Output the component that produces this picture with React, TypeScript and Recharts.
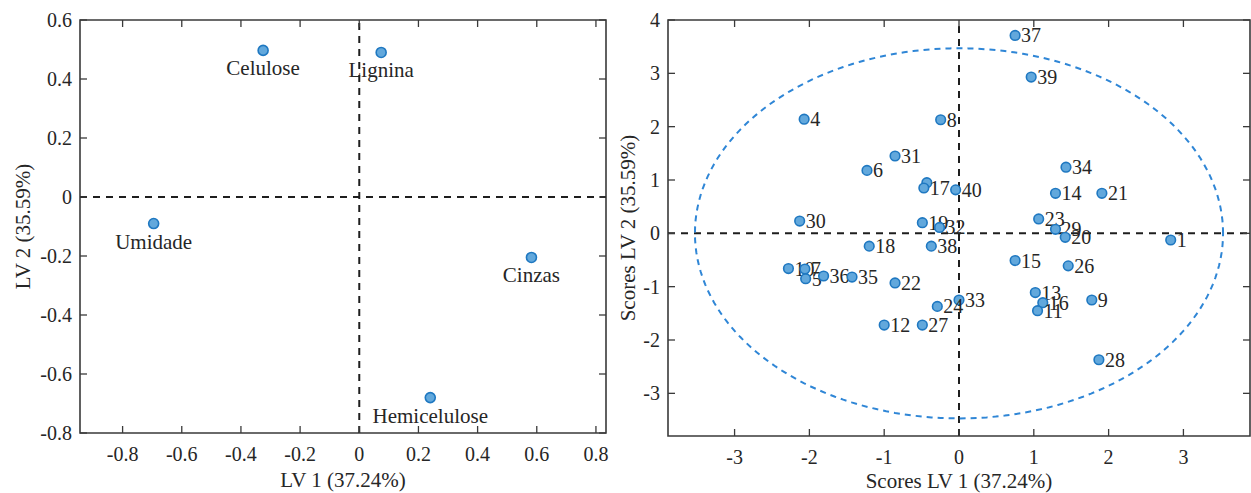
import React from "react";
import {
  ScatterChart,
  Scatter,
  XAxis,
  YAxis,
  ReferenceLine,
  ReferenceArea,
} from "recharts";

// loadings (left panel)
const loadingNames = ["Celulose", "Lignina", "Umidade", "Cinzas", "Hemicelulose"];
const loadingLV1 = [-0.325, 0.074, -0.695, 0.582, 0.24];
const loadingLV2 = [0.497, 0.49, -0.09, -0.205, -0.68];
const loadingTicksX = [-0.8, -0.6, -0.4, -0.2, 0, 0.2, 0.4, 0.6, 0.8];
const loadingTicksY = [-0.8, -0.6, -0.4, -0.2, 0, 0.2, 0.4, 0.6];

// scores (right panel)
const sampleIds = [
  "37", "39", "4", "8", "31", "6", "", "17", "40", "34",
  "14", "21", "30", "19", "32", "23", "29", "20", "1", "18",
  "38", "15", "26", "10", "7", "5", "36", "35", "22", "13",
  "16", "9", "33", "24", "11", "12", "27", "28",
];
const scoreLV1 = [
  0.75, 0.965, -2.07, -0.245, -0.855, -1.23, -0.43, -0.47, -0.045, 1.43,
  1.29, 1.91, -2.13, -0.49, -0.26, 1.065, 1.29, 1.42, 2.83, -1.2,
  -0.37, 0.75, 1.46, -2.28, -2.06, -2.05, -1.81, -1.43, -0.855, 1.02,
  1.12, 1.775, 0.0, -0.29, 1.05, -1.0, -0.49, 1.87,
];
const scoreLV2 = [
  3.71, 2.93, 2.14, 2.13, 1.45, 1.18, 0.95, 0.85, 0.815, 1.24,
  0.75, 0.75, 0.23, 0.2, 0.11, 0.27, 0.075, -0.075, -0.125, -0.24,
  -0.24, -0.51, -0.61, -0.66, -0.67, -0.85, -0.8, -0.82, -0.93, -1.11,
  -1.3, -1.25, -1.25, -1.37, -1.45, -1.72, -1.72, -2.37,
];
const scoreTicksX = [-3, -2, -1, 0, 1, 2, 3];
const scoreTicksY = [-3, -2, -1, 0, 1, 2, 3, 4];

// confidence ellipse semi-axes
const ellipseRadiusLV1 = 3.53;
const ellipseRadiusLV2 = 3.47;

const loadingData = loadingNames.map((name, i) => ({
  name,
  x: loadingLV1[i],
  y: loadingLV2[i],
}));
const scoreData = sampleIds.map((id, i) => ({
  id,
  x: scoreLV1[i],
  y: scoreLV2[i],
}));
const ellipseData = Array.from({ length: 181 }, (_, i) => {
  const t = (i / 180) * 2 * Math.PI;
  return { x: ellipseRadiusLV1 * Math.cos(t), y: ellipseRadiusLV2 * Math.sin(t) };
});

const FONT = "'Liberation Serif', 'Times New Roman', serif";
const INK = "#262626";
const FRAME = "#3a3a3a";
const DOT_FILL = "#62a8dc";
const DOT_STROKE = "#1f78c1";

const fmtLoad = (v: number) => (v === 0 ? "0" : v.toFixed(1));
const fmtInt = (v: number) => String(v);

function xTick(top: number, bottom: number, fmt: (v: number) => string) {
  return (p: any) => (
    <g key={"xt" + p.index}>
      <line x1={p.x} x2={p.x} y1={bottom} y2={bottom - 7} stroke={FRAME} strokeWidth={1.3} />
      <line x1={p.x} x2={p.x} y1={top} y2={top + 7} stroke={FRAME} strokeWidth={1.3} />
      <text x={p.x} y={bottom + 28} textAnchor="middle" fontFamily={FONT} fontSize={20} fill={INK}>
        {fmt(p.payload.value)}
      </text>
    </g>
  );
}

function yTick(left: number, right: number, fmt: (v: number) => string) {
  return (p: any) => (
    <g key={"yt" + p.index}>
      <line x1={left} x2={left + 7} y1={p.y} y2={p.y} stroke={FRAME} strokeWidth={1.3} />
      <line x1={right} x2={right - 7} y1={p.y} y2={p.y} stroke={FRAME} strokeWidth={1.3} />
      <text x={left - 8} y={p.y + 7} textAnchor="end" fontFamily={FONT} fontSize={20} fill={INK}>
        {fmt(p.payload.value)}
      </text>
    </g>
  );
}

function LoadingDot(p: any) {
  return (
    <g>
      <circle cx={p.cx} cy={p.cy} r={5} fill={DOT_FILL} stroke={DOT_STROKE} strokeWidth={1.6} />
      <text x={p.cx} y={p.cy + 25} textAnchor="middle" fontFamily={FONT} fontSize={21} fill={INK}>
        {p.payload.name}
      </text>
    </g>
  );
}

function ScoreDot(p: any) {
  return (
    <g>
      <circle cx={p.cx} cy={p.cy} r={4.8} fill={DOT_FILL} stroke={DOT_STROKE} strokeWidth={1.6} />
      <text x={p.cx + 6} y={p.cy + 7} fontFamily={FONT} fontSize={20} fill={INK}>
        {p.payload.id}
      </text>
    </g>
  );
}

function LoadingsPlot() {
  const L = 80, R = 606, T = 20, B = 433;
  return (
    <ScatterChart width={620} height={493} margin={{ top: T, right: 620 - R, bottom: 30, left: 20 }}>
      <XAxis
        type="number"
        dataKey="x"
        domain={[-0.944, 0.834]}
        ticks={loadingTicksX}
        allowDataOverflow
        axisLine={false}
        tickLine={false}
        height={30}
        tick={xTick(T, B, fmtLoad)}
        label={{
          value: "LV 1 (37.24%)",
          content: () => (
            <text x={(L + R) / 2} y={487} textAnchor="middle" fontFamily={FONT} fontSize={21} fill={INK}>
              LV 1 (37.24%)
            </text>
          ),
        }}
      />
      <YAxis
        type="number"
        dataKey="y"
        domain={[-0.8, 0.6]}
        ticks={loadingTicksY}
        allowDataOverflow
        axisLine={false}
        tickLine={false}
        width={60}
        tick={yTick(L, R, fmtLoad)}
        label={{
          value: "LV 2 (35.59%)",
          content: () => (
            <text
              transform={`translate(30, ${(T + B) / 2}) rotate(-90)`}
              textAnchor="middle"
              fontFamily={FONT}
              fontSize={21}
              fill={INK}
            >
              LV 2 (35.59%)
            </text>
          ),
        }}
      />
      <ReferenceArea x1={-0.944} x2={0.834} y1={-0.8} y2={0.6} fill="none" stroke={FRAME} strokeWidth={1.6} />
      <ReferenceLine x={0} stroke="#1e1e1e" strokeWidth={2} strokeDasharray="7 6" />
      <ReferenceLine y={0} stroke="#1e1e1e" strokeWidth={2} strokeDasharray="7 6" />
      <Scatter data={loadingData} shape={LoadingDot} isAnimationActive={false} />
    </ScatterChart>
  );
}

function ScoresPlot() {
  // chart sits at x = 607 on the page
  const L = 61, R = 643, T = 20, B = 436;
  return (
    <ScatterChart width={644} height={493} margin={{ top: T, right: 644 - R, bottom: 27, left: 21 }}>
      <XAxis
        type="number"
        dataKey="x"
        domain={[-3.89, 3.89]}
        ticks={scoreTicksX}
        allowDataOverflow
        axisLine={false}
        tickLine={false}
        height={30}
        tick={xTick(T, B, fmtInt)}
        label={{
          value: "Scores LV 1 (37.24%)",
          content: () => (
            <text x={(L + R) / 2} y={488} textAnchor="middle" fontFamily={FONT} fontSize={21} fill={INK}>
              Scores LV 1 (37.24%)
            </text>
          ),
        }}
      />
      <YAxis
        type="number"
        dataKey="y"
        domain={[-3.8, 4]}
        ticks={scoreTicksY}
        allowDataOverflow
        axisLine={false}
        tickLine={false}
        width={40}
        tick={yTick(L, R, fmtInt)}
        label={{
          value: "Scores LV 2 (35.59%)",
          content: () => (
            <text
              transform={`translate(28, ${(T + B) / 2}) rotate(-90)`}
              textAnchor="middle"
              fontFamily={FONT}
              fontSize={21}
              fill={INK}
            >
              Scores LV 2 (35.59%)
            </text>
          ),
        }}
      />
      <ReferenceArea x1={-3.89} x2={3.89} y1={-3.8} y2={4} fill="none" stroke={FRAME} strokeWidth={1.6} />
      <ReferenceLine x={0} stroke="#1e1e1e" strokeWidth={2} strokeDasharray="7 6" />
      <ReferenceLine y={0} stroke="#1e1e1e" strokeWidth={2} strokeDasharray="7 6" />
      <Scatter
        data={ellipseData}
        line={{ stroke: "#2f86d6", strokeWidth: 2, strokeDasharray: "6 5" }}
        lineType="joint"
        shape={() => <g />}
        isAnimationActive={false}
      />
      <Scatter data={scoreData} shape={ScoreDot} isAnimationActive={false} />
    </ScatterChart>
  );
}

export default function App() {
  return (
    <div style={{ position: "absolute", left: 0, top: 0, width: 1251, height: 493, background: "#fff" }}>
      <div style={{ position: "absolute", left: 0, top: 0 }}>
        <LoadingsPlot />
      </div>
      <div style={{ position: "absolute", left: 607, top: 0 }}>
        <ScoresPlot />
      </div>
    </div>
  );
}
